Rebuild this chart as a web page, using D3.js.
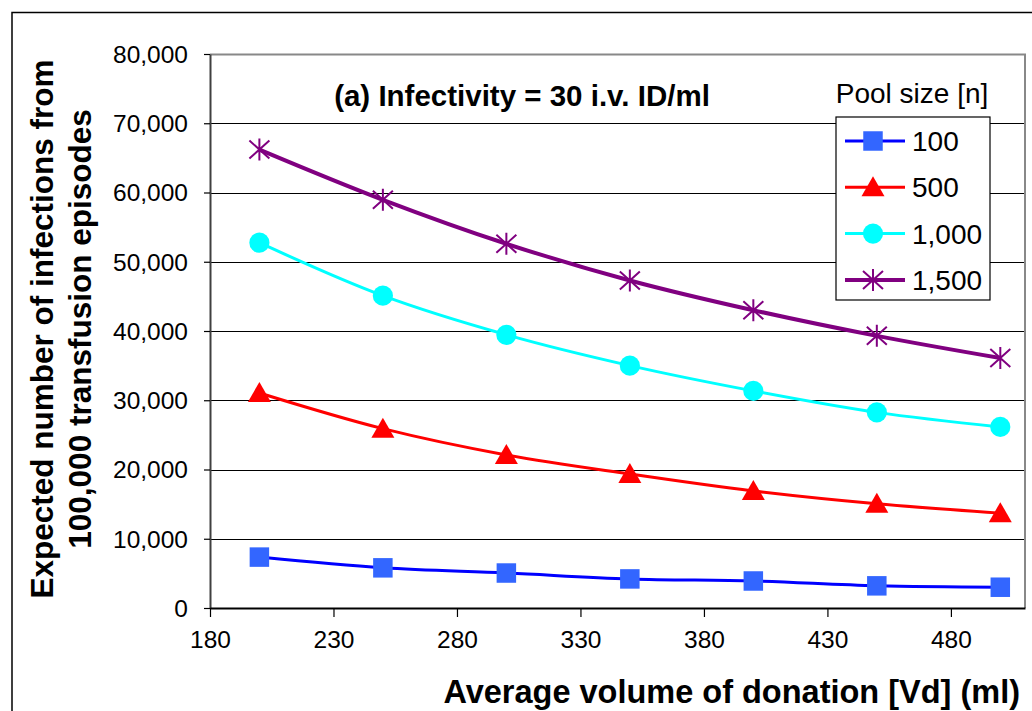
<!DOCTYPE html>
<html>
<head>
<meta charset="utf-8">
<script src="https://cdn.jsdelivr.net/npm/d3@7/dist/d3.min.js"></script>
<style>
  html, body { margin: 0; padding: 0; background: #fff; }
  svg { display: block; font-family: "Liberation Sans", Arial, sans-serif; }
</style>
</head>
<body>
<svg id="chart" width="1032" height="711"></svg>
<script>
// Average donation volume (ml)
const volumes = [200, 250, 300, 350, 400, 450, 500];
// Expected infections per 100,000 transfusion episodes, by pool size
const pool100  = [7350, 5800, 5050, 4200, 3900, 3200, 3000];
const pool500  = [31050, 25900, 22100, 19350, 16900, 15050, 13700];
const pool1000 = [52750, 45100, 39450, 35000, 31350, 28250, 26150];
const pool1500 = [66200, 58950, 52600, 47300, 43000, 39300, 36100];
const seriesNames = ["100", "500", "1,000", "1,500"];
const xTicks = [180, 230, 280, 330, 380, 430, 480];
const yTicks = [0, 10000, 20000, 30000, 40000, 50000, 60000, 70000, 80000];

const series = [
  { name: seriesNames[0], values: pool100,  line: "#0000ff", fill: "#3366ff", marker: "square",   width: 3 },
  { name: seriesNames[1], values: pool500,  line: "#ff0000", fill: "#ff0000", marker: "triangle", width: 3 },
  { name: seriesNames[2], values: pool1000, line: "#00ffff", fill: "#00ffff", marker: "circle",   width: 3 },
  { name: seriesNames[3], values: pool1500, line: "#800080", fill: "#800080", marker: "star",     width: 4 }
];

const svg = d3.select("#chart");
const plot = { left: 210, right: 1025, top: 54, bottom: 608 };

const x = d3.scaleLinear().domain([180, 510]).range([plot.left, plot.right]);
const y = d3.scaleLinear().domain([0, 80000]).range([plot.bottom, plot.top]);

// Outer chart frame
svg.append("rect")
  .attr("x", 12).attr("y", 12.5)
  .attr("width", 1040).attr("height", 720)
  .attr("fill", "#fff").attr("stroke", "#000").attr("stroke-width", 1.5);

// Horizontal gridlines
svg.append("g")
  .selectAll("line")
  .data(yTicks.filter(d => d > 0 && d < 80000))
  .join("line")
  .attr("x1", plot.left).attr("x2", plot.right)
  .attr("y1", d => Math.round(y(d)) + 0.5).attr("y2", d => Math.round(y(d)) + 0.5)
  .attr("stroke", "#000").attr("stroke-width", 1.2);

// Plot area frame (top and right in grey)
svg.append("path")
  .attr("d", `M${plot.left},${plot.top + 0.5}H${plot.right}V${plot.bottom}`)
  .attr("fill", "none").attr("stroke", "#888").attr("stroke-width", 2);

// Y axis
const yAxis = d3.axisLeft(y)
  .tickValues(yTicks)
  .tickFormat(d3.format(","))
  .tickSizeInner(6).tickSizeOuter(0).tickPadding(16);
const gy = svg.append("g").attr("transform", `translate(${plot.left},0)`).call(yAxis);
gy.select(".domain").attr("stroke", "#404040").attr("stroke-width", 2);
gy.selectAll(".tick line").attr("stroke", "#000").attr("stroke-width", 1.2);
gy.selectAll(".tick text")
  .attr("font-size", 24.5).attr("fill", "#000")
  .attr("font-family", "Liberation Sans, Arial, sans-serif")
  .attr("dy", "0.34em");

// X axis
const xAxis = d3.axisBottom(x)
  .tickValues(xTicks)
  .tickFormat(d3.format("d"))
  .tickSizeInner(9).tickSizeOuter(0).tickPadding(14);
const gx = svg.append("g").attr("transform", `translate(0,${plot.bottom})`).call(xAxis);
gx.select(".domain").attr("stroke", "#000").attr("stroke-width", 2);
gx.selectAll(".tick line").attr("stroke", "#000").attr("stroke-width", 1.2);
gx.selectAll(".tick text")
  .attr("font-size", 24.5).attr("fill", "#000")
  .attr("font-family", "Liberation Sans, Arial, sans-serif");

// Marker shapes
const markerPath = {
  square:   d3.symbol().type(d3.symbolSquare).size(380)(),
  triangle: "M0,-11L11.5,9L-11.5,9Z",
  circle:   d3.symbol().type(d3.symbolCircle).size(320)(),
  star:     "M0,-11V11M-10,-9L10,9M-10,9L10,-9"
};
function drawMarker(g, s) {
  const p = g.append("path").attr("d", markerPath[s.marker]);
  if (s.marker === "star") {
    p.attr("fill", "none").attr("stroke", s.fill).attr("stroke-width", 2);
  } else {
    p.attr("fill", s.fill).attr("stroke", "none");
  }
}

const line = d3.line()
  .x((d, i) => x(volumes[i]))
  .y(d => y(d))
  .curve(d3.curveCatmullRom.alpha(0.5));

series.forEach(s => {
  svg.append("path")
    .datum(s.values)
    .attr("d", line)
    .attr("fill", "none")
    .attr("stroke", s.line)
    .attr("stroke-width", s.width)
    .attr("stroke-linejoin", "round");
  s.values.forEach((v, i) => {
    const g = svg.append("g").attr("transform", `translate(${x(volumes[i])},${y(v)})`);
    drawMarker(g, s);
  });
});

// Chart title inside plot
svg.append("text")
  .attr("x", 522).attr("y", 106)
  .attr("text-anchor", "middle")
  .attr("font-size", 29.5).attr("font-weight", "bold")
  .text("(a) Infectivity = 30 i.v. ID/ml");

// Legend
const legend = svg.append("g");
legend.append("text")
  .attr("x", 912).attr("y", 103)
  .attr("text-anchor", "middle")
  .attr("font-size", 28)
  .text("Pool size [n]");
legend.append("rect")
  .attr("x", 836).attr("y", 117)
  .attr("width", 154).attr("height", 183)
  .attr("fill", "#fff").attr("stroke", "#000").attr("stroke-width", 1.2);
series.forEach((s, i) => {
  const cy = 141 + i * 46.3;
  legend.append("line")
    .attr("x1", 845).attr("x2", 905)
    .attr("y1", cy).attr("y2", cy)
    .attr("stroke", s.line).attr("stroke-width", s.width);
  const g = legend.append("g").attr("transform", `translate(873,${cy})`);
  drawMarker(g, s);
  legend.append("text")
    .attr("x", 912).attr("y", cy)
    .attr("dy", "0.36em")
    .attr("font-size", 28)
    .text(s.name);
});

// Axis titles
svg.append("text")
  .attr("x", 1020).attr("y", 703)
  .attr("text-anchor", "end")
  .attr("font-size", 32.5).attr("font-weight", "bold")
  .text("Average volume of donation [Vd] (ml)");

const yTitle = svg.append("text")
  .attr("transform", "translate(0,329) rotate(-90)")
  .attr("text-anchor", "middle")
  .attr("font-size", 31.5).attr("font-weight", "bold");
yTitle.append("tspan").attr("x", 0).attr("y", 53).text("Expected number of infections from");
yTitle.append("tspan").attr("x", 0).attr("y", 91).text("100,000 transfusion episodes");
</script>
</body>
</html>
